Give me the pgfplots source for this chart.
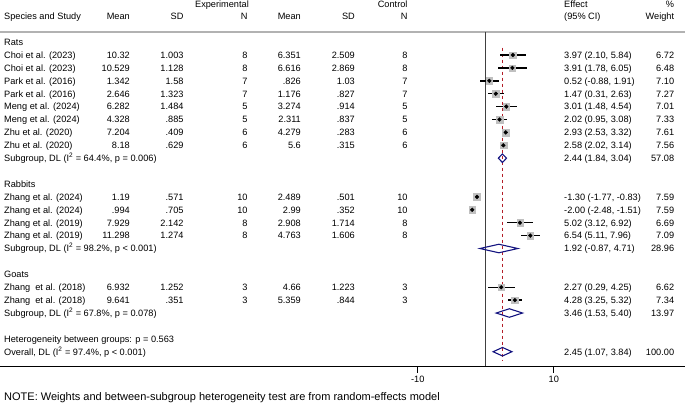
\documentclass[border=0pt]{standalone}
\usepackage{fontspec}
\setmainfont{Liberation Sans}
\usepackage{pgfplots}
\pgfplotsset{compat=1.18}
\usepackage{pgfplotstable}

\definecolor{dmd}{RGB}{20,20,128}
\definecolor{refred}{RGB}{180,30,40}
\definecolor{boxgray}{RGB}{192,192,192}

% study estimates: row index, effect, CI, weight
\pgfplotstableread{
row est lo hi w
1 3.97 2.10 5.84 6.72
2 3.91 1.78 6.05 6.48
3 0.52 -0.88 1.91 7.10
4 1.47 0.31 2.63 7.27
5 3.01 1.48 4.54 7.01
6 2.02 0.95 3.08 7.33
7 2.93 2.53 3.32 7.61
8 2.58 2.02 3.14 7.56
12 -1.30 -1.77 -0.83 7.59
13 -2.00 -2.48 -1.51 7.59
14 5.02 3.12 6.92 6.69
15 6.54 5.11 7.96 7.09
19 2.27 0.29 4.25 6.62
20 4.28 3.25 5.32 7.34
}\studies

% column positions given in picture points, converted to effect units
\newcommand{\px}[1]{((#1)-485.8)/6.8}
\newcommand{\TR}[3]{\node[anchor=base east,inner sep=0pt,yshift=-3.3pt] at (axis cs:{\px{#1}},{-(#2)}) {#3};}
\newcommand{\TL}[3]{\node[anchor=base west,inner sep=0pt,yshift=-3.3pt] at (axis cs:{\px{#1}},{-(#2)}) {#3};}
\newcommand{\Row}[8]{\TL{4}{#1}{#2}\TR{130}{#1}{#3}\TR{183.7}{#1}{#4}\TR{247.7}{#1}{#5}%
  \TR{301}{#1}{#6}\TR{355}{#1}{#7}\TR{407.7}{#1}{#8}}
\newcommand{\Eff}[3]{\TL{564}{#1}{#2}\TR{674.3}{#1}{#3}}

\begin{document}
\begin{tikzpicture}[font=\fontsize{9.2}{11}\selectfont]
\begin{axis}[
    x=6.8pt, y=12.9pt,
    xmin=-71.44, xmax=29.29,
    ymin=-25.11, ymax=0.806,
    axis x line*=bottom,
    axis y line=none,
    xtick={-10,10},
    xticklabels={-10,10},
    tick align=outside,
    major tick length=6.7pt,
    x axis line style={line width=1pt, black},
    xtick style={line width=1pt, black},
    tick label style={font=\fontsize{9.2}{11}\selectfont},
    clip=false,
]

% header rule
\draw[black!30, line width=1.6pt] (rel axis cs:0,1) -- (rel axis cs:1,1);

% no-effect line and overall estimate line
\addplot[black!75, line width=0.9pt] coordinates {(0,0.806) (0,-25.11)};
\addplot[refred, line width=0.9pt, dash pattern=on 3.5pt off 2.5pt] coordinates {(2.45,-0.43) (2.45,-24.64)};

% weight boxes
\addplot[scatter, only marks, mark=square*,
    scatter/use mapped color={draw=boxgray, fill=boxgray},
    visualization depends on={1.22*sqrt(\thisrow{w}) \as \msize},
    scatter/@pre marker code/.append style={/tikz/mark size=\msize pt}]
    table[x=est, y expr=-\thisrow{row}] {\studies};

% confidence intervals and point estimates
\addplot[only marks, mark=*, mark size=1.9pt, black,
    error bars/.cd, x dir=both, x explicit, error mark=none,
    error bar style={line width=1.4pt, black}]
    table[x=est, y expr=-\thisrow{row},
          x error plus expr=\thisrow{hi}-\thisrow{est},
          x error minus expr=\thisrow{est}-\thisrow{lo}] {\studies};

% pooled diamonds
\addplot[dmd, line width=1.1pt, line join=miter] coordinates {(1.84,-9) (2.44,-8.67) (3.04,-9) (2.44,-9.33)} -- cycle;
\addplot[dmd, line width=1.1pt, line join=miter] coordinates {(-0.87,-16) (1.92,-15.67) (4.71,-16) (1.92,-16.33)} -- cycle;
\addplot[dmd, line width=1.1pt, line join=miter] coordinates {(1.53,-21) (3.46,-20.67) (5.40,-21) (3.46,-21.33)} -- cycle;
\addplot[dmd, line width=1.1pt, line join=miter] coordinates {(1.07,-24) (2.45,-23.67) (3.84,-24) (2.45,-24.33)} -- cycle;

% header
\TR{249}{-2.95}{Experimental}
\TR{407.7}{-2.95}{Control}
\TL{564}{-2.95}{Effect}
\TR{674.3}{-2.95}{\%}
\Row{-2.02}{Species and Study}{Mean}{SD}{N}{Mean}{SD}{N}
\Eff{-2.02}{(95\% CI)}{Weight}

% rats
\TL{4}{0}{Rats}
\Row{1}{Choi et al. (2023)}{10.32}{1.003}{8}{6.351}{2.509}{8}\Eff{1}{3.97 (2.10, 5.84)}{6.72}
\Row{2}{Choi et al. (2023)}{10.529}{1.128}{8}{6.616}{2.869}{8}\Eff{2}{3.91 (1.78, 6.05)}{6.48}
\Row{3}{Park et al. (2016)}{1.342}{1.58}{7}{.826}{1.03}{7}\Eff{3}{0.52 (-0.88, 1.91)}{7.10}
\Row{4}{Park et al. (2016)}{2.646}{1.323}{7}{1.176}{.827}{7}\Eff{4}{1.47 (0.31, 2.63)}{7.27}
\Row{5}{Meng et al. (2024)}{6.282}{1.484}{5}{3.274}{.914}{5}\Eff{5}{3.01 (1.48, 4.54)}{7.01}
\Row{6}{Meng et al. (2024)}{4.328}{.885}{5}{2.311}{.837}{5}\Eff{6}{2.02 (0.95, 3.08)}{7.33}
\Row{7}{Zhu et al. (2020)}{7.204}{.409}{6}{4.279}{.283}{6}\Eff{7}{2.93 (2.53, 3.32)}{7.61}
\Row{8}{Zhu et al. (2020)}{8.18}{.629}{6}{5.6}{.315}{6}\Eff{8}{2.58 (2.02, 3.14)}{7.56}
\TL{4}{9}{Subgroup, DL (I\textsuperscript{2} = 64.4\%, p = 0.006)}\Eff{9}{2.44 (1.84, 3.04)}{57.08}

% rabbits
\TL{4}{11}{Rabbits}
\Row{12}{Zhang et al. (2024)}{1.19}{.571}{10}{2.489}{.501}{10}\Eff{12}{-1.30 (-1.77, -0.83)}{7.59}
\Row{13}{Zhang et al. (2024)}{.994}{.705}{10}{2.99}{.352}{10}\Eff{13}{-2.00 (-2.48, -1.51)}{7.59}
\Row{14}{Zhang et al. (2019)}{7.929}{2.142}{8}{2.908}{1.714}{8}\Eff{14}{5.02 (3.12, 6.92)}{6.69}
\Row{15}{Zhang et al. (2019)}{11.298}{1.274}{8}{4.763}{1.606}{8}\Eff{15}{6.54 (5.11, 7.96)}{7.09}
\TL{4}{16}{Subgroup, DL (I\textsuperscript{2} = 98.2\%, p < 0.001)}\Eff{16}{1.92 (-0.87, 4.71)}{28.96}

% goats
\TL{4}{18}{Goats}
\Row{19}{Zhang\ \ et al. (2018)}{6.932}{1.252}{3}{4.66}{1.223}{3}\Eff{19}{2.27 (0.29, 4.25)}{6.62}
\Row{20}{Zhang\ \ et al. (2018)}{9.641}{.351}{3}{5.359}{.844}{3}\Eff{20}{4.28 (3.25, 5.32)}{7.34}
\TL{4}{21}{Subgroup, DL (I\textsuperscript{2} = 67.8\%, p = 0.078)}\Eff{21}{3.46 (1.53, 5.40)}{13.97}

\TL{4}{23}{Heterogeneity between groups: p = 0.563}
\TL{4}{24}{Overall, DL (I\textsuperscript{2} = 97.4\%, p < 0.001)}\Eff{24}{2.45 (1.07, 3.84)}{100.00}

\TL{4}{27.55}{\fontsize{11}{13}\selectfont NOTE: Weights and between-subgroup heterogeneity test are from random-effects model}
\end{axis}
\pgfresetboundingbox
\path ([yshift=-40pt]current axis.south west) rectangle ([yshift=31.7pt]current axis.north east);
\end{tikzpicture}
\end{document}
